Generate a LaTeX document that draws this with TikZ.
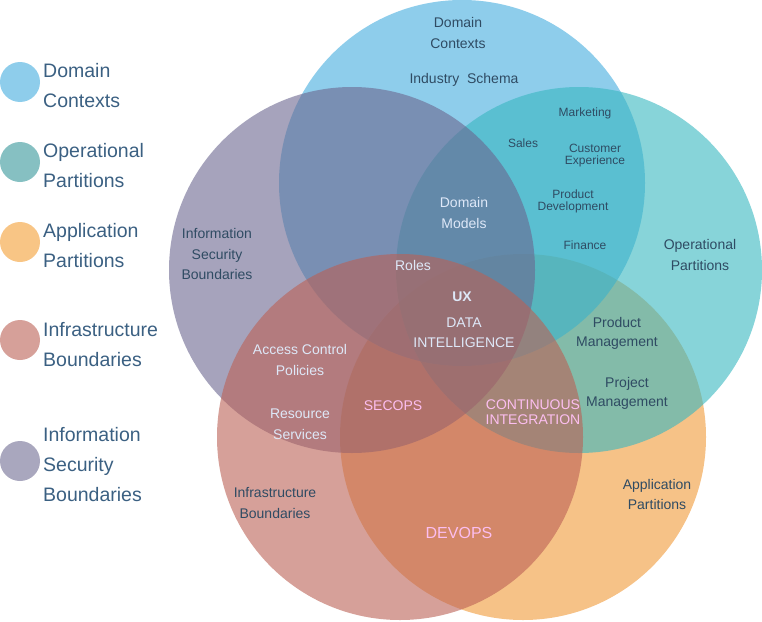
\documentclass[tikz,border=0pt]{standalone}
\usepackage{fontspec}
\setmainfont{Liberation Sans}
\definecolor{cBlue}{RGB}{67,172,222}
\definecolor{cTeal}{RGB}{55,183,192}
\definecolor{cPurple}{RGB}{107,102,143}
\definecolor{cRed}{RGB}{187,97,85}
\definecolor{cOrange}{RGB}{240,153,55}
\definecolor{lBlue}{RGB}{142,205,235}
\definecolor{lTeal}{RGB}{134,192,194}
\definecolor{lOrange}{RGB}{248,197,133}
\definecolor{lRed}{RGB}{214,160,153}
\definecolor{lPurple}{RGB}{169,167,190}
\definecolor{txtDark}{RGB}{47,75,99}
\definecolor{txtLight}{RGB}{222,232,248}
\definecolor{txtPink}{RGB}{252,190,240}
\definecolor{txtLegend}{RGB}{59,96,130}
\tikzset{
  venn/.style={circle, minimum size=366pt, inner sep=0pt, draw=none, fill opacity=0.6},
  legdot/.style={circle, minimum size=40pt, inner sep=0pt, draw=none},
  legtxt/.style={anchor=west, align=left, inner sep=0pt, yshift=-1pt, text=txtLegend, font=\fontsize{19.5}{30}\selectfont},
  lbl/.style={align=center, inner sep=0pt, yshift=-1.5pt},
  dk/.style={lbl, text=txtDark, font=\fontsize{14}{21}\selectfont},
  dks/.style={lbl, text=txtDark, font=\fontsize{12}{12}\selectfont},
  lt/.style={lbl, text=txtLight, font=\fontsize{14}{21}\selectfont},
  pk/.style={lbl, text=txtPink, font=\fontsize{14}{15}\selectfont},
}
\begin{document}
\begin{tikzpicture}[x=1pt,y=-1pt]
\useasboundingbox (0,0) rectangle (762,621);
% Venn circles
\node[venn, fill=cOrange] (app) at (523,437) {};
\node[venn, fill=cBlue] (dom) at (462,183) {};
\node[venn, fill=cTeal] (ops) at (579,270) {};
\node[venn, fill=cPurple] (sec) at (352,270) {};
\node[venn, fill=cRed] (inf) at (400,437) {};
% Legend
\node[legdot, fill=lBlue] (l1) at (20,82) {};
\node[legdot, fill=lTeal] (l2) at (20,162) {};
\node[legdot, fill=lOrange] (l3) at (20,242) {};
\node[legdot, fill=lRed] (l4) at (20,340) {};
\node[legdot, fill=lPurple] (l5) at (20,461) {};
\node[legtxt] (t1) at (43,85) {Domain\\Contexts};
\node[legtxt] (t2) at (43,165) {Operational\\Partitions};
\node[legtxt] (t3) at (43,245) {Application\\Partitions};
\node[legtxt] (t4) at (43,344) {Infrastructure\\Boundaries};
\node[legtxt] (t5) at (43,464) {Information\\Security\\Boundaries};
% Labels
\node[dk] (dc) at (458,31.5) {Domain\\Contexts};
\node[dk] (is) at (464,78) {Industry~~Schema};
\node[dks] (mk) at (585,112) {Marketing};
\node[dks] (sa) at (523,142) {Sales};
\node[dks] (ce) at (595,154) {Customer\\Experience};
\node[dks] (pd) at (573,200) {Product\\Development};
\node[dks] (fi) at (585,244) {Finance};
\node[lt] (dm) at (464,211.5) {Domain\\Models};
\node[dk] (op) at (700,253.5) {Operational\\Partitions};
\node[dk, font=\fontsize{14}{20.5}\selectfont] (isb) at (217,252.5) {Information\\Security\\Boundaries};
\node[lt] (ro) at (413,264) {Roles};
\node[lt, font=\fontsize{14}{21}\selectfont\bfseries] (ux) at (462,295) {UX};
\node[lt, font=\fontsize{14}{20}\selectfont] (di) at (464,331) {DATA\\INTELLIGENCE};
\node[lt] (ac) at (300,358.5) {Access Control\\Policies};
\node[dk, font=\fontsize{14}{19}\selectfont] (pm) at (617,331.5) {Product\\Management};
\node[dk, font=\fontsize{14}{19}\selectfont] (prm) at (627,391.5) {Project\\Management};
\node[lt] (rs) at (300,422.5) {Resource\\Services};
\node[pk] (se) at (393,404) {SECOPS};
\node[pk] (ci) at (533,410.5) {CONTINUOUS\\INTEGRATION};
\node[dk, font=\fontsize{14}{20}\selectfont] (ap) at (657,493) {Application\\Partitions};
\node[dk] (ib) at (275,501.5) {Infrastructure\\Boundaries};
\node[pk, font=\fontsize{16}{16}\selectfont] (dv) at (459,531) {DEVOPS};
\end{tikzpicture}
\end{document}
